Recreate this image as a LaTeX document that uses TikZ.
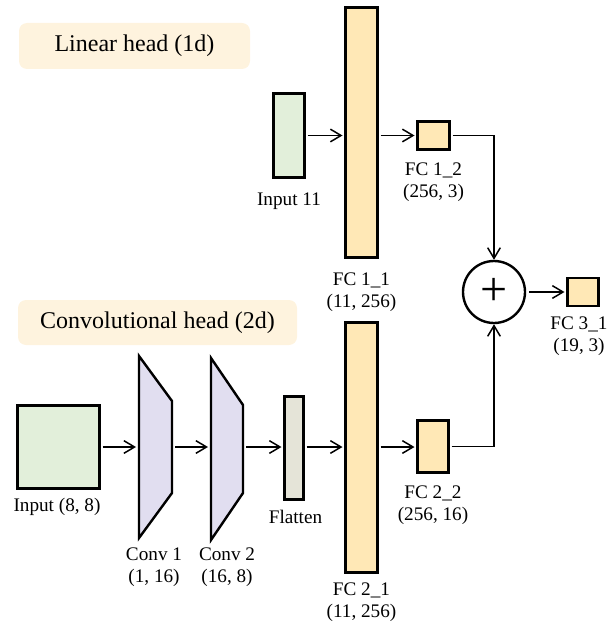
\documentclass[tikz,border=0pt]{standalone}
\usepackage{fontspec}
\setmainfont{Liberation Serif}
\usepackage{xcolor}
\usepackage{tikz}
\usetikzlibrary{arrows.meta,calc}

\definecolor{headbg}{RGB}{254,243,222}
\definecolor{fcfill}{RGB}{255,232,182}
\definecolor{infill}{RGB}{226,239,218}
\definecolor{convfill}{RGB}{225,222,240}
\definecolor{flatfill}{RGB}{229,228,216}

\newlength{\px}
\setlength{\px}{0.75pt}

\begin{document}
\begin{tikzpicture}[x=\px,y=-\px,>={Straight Barb[length=8pt,width=9.5pt]},
  layer/.style={draw,line width=2.4\px,inner sep=0pt,outer sep=0pt},
  fc/.style={layer,fill=fcfill},
  inp/.style={layer,fill=infill},
  arr/.style={->,line width=1.5\px,shorten <=3\px,shorten >=3\px},
  lbl/.style={anchor=north,align=center,inner sep=0pt,font=\fontsize{14.4}{16.5}\selectfont},
  head/.style={fill=headbg,rounded corners=8\px,inner sep=0pt,font=\fontsize{18}{20}\selectfont}]
  \useasboundingbox (0,0) rectangle (608,624);
  % --- Ueberschriften ---
  \node[head,minimum width=231\px,minimum height=46\px] (linhead) at (134.5,46) {Linear head (1d)};
  \node[head,minimum width=279\px,minimum height=45\px] (convhead) at (157.5,322.5) {Convolutional head (2d)};
  % --- Linear head ---
  \node[inp,minimum width=31\px,minimum height=84\px] (in11) at (289,135.5) {};
  \node[fc,minimum width=32\px,minimum height=250\px] (fc11) at (361.5,132.5) {};
  \node[fc,minimum width=32\px,minimum height=28\px] (fc12) at (433.5,135.5) {};
  \draw[arr] (in11.east) -- (in11.east -| fc11.west);
  \draw[arr] (fc12.west -| fc11.east) -- (fc12.west);
  \node[lbl] (in11lbl) at (289,193) {Input 11};
  \node[lbl] (fc11lbl) at (361.5,273) {FC 1\_1\\(11, 256)};
  \node[lbl] (fc12lbl) at (433.5,163) {FC 1\_2\\(256, 3)};
  % --- Summe und Ausgang ---
  \node[draw,circle,line width=2.4\px,minimum size=62\px,inner sep=0pt,font=\fontsize{36}{36}\selectfont] (sum) at (494,292) {+};
  \node[fc,minimum width=31\px,minimum height=28\px] (fc31) at (583,292) {};
  \draw[arr] (sum.east) -- (fc31.west);
  \node[lbl] (fc31lbl) at (579,317) {FC 3\_1\\(19, 3)};
  % --- Convolutional head ---
  \node[inp,minimum width=82\px,minimum height=83\px] (in88) at (58.5,447) {};
  \node[minimum width=33\px,minimum height=182\px,inner sep=0pt,outer sep=0pt] (conv1) at (155.5,447) {};
  \node[minimum width=32\px,minimum height=182\px,inner sep=0pt,outer sep=0pt] (conv2) at (227,449) {};
  \draw[layer,fill=convfill] (conv1.north west) -- ([yshift=-45\px]conv1.north east)
    -- ([yshift=45\px]conv1.south east) -- (conv1.south west) -- cycle;
  \draw[layer,fill=convfill] (conv2.north west) -- ([yshift=-47\px]conv2.north east)
    -- ([yshift=47\px]conv2.south east) -- (conv2.south west) -- cycle;
  \node[layer,fill=flatfill,minimum width=19\px,minimum height=103\px] (flat) at (294,448) {};
  \node[fc,minimum width=32\px,minimum height=250\px] (fc21) at (361.5,447.5) {};
  \node[fc,minimum width=31\px,minimum height=52\px] (fc22) at (433,446.5) {};
  \draw[arr] (in88.east) -- (in88.east -| conv1.west);
  \draw[arr] (in88.east -| conv1.east) -- (in88.east -| conv2.west);
  \draw[arr] (in88.east -| conv2.east) -- (in88.east -| flat.west);
  \draw[arr] (in88.east -| flat.east) -- (in88.east -| fc21.west);
  \draw[arr] (in88.east -| fc21.east) -- (in88.east -| fc22.west);
  \node[lbl] (in88lbl) at (57,498) {Input (8, 8)};
  \node[lbl] (conv1lbl) at (154,548) {Conv 1\\(1, 16)};
  \node[lbl] (conv2lbl) at (227,548) {Conv 2\\(16, 8)};
  \node[lbl] (flatlbl) at (295.5,510) {Flatten};
  \node[lbl] (fc21lbl) at (361.5,583) {FC 2\_1\\(11, 256)};
  \node[lbl] (fc22lbl) at (433,486) {FC 2\_2\\(256, 16)};
  % --- Verbindungen zur Summe ---
  \draw[arr,shorten >=0pt] (fc12.east) -| (sum.north);
  \draw[arr,shorten >=0pt] (fc22.east) -| (sum.south);
\end{tikzpicture}
\end{document}
